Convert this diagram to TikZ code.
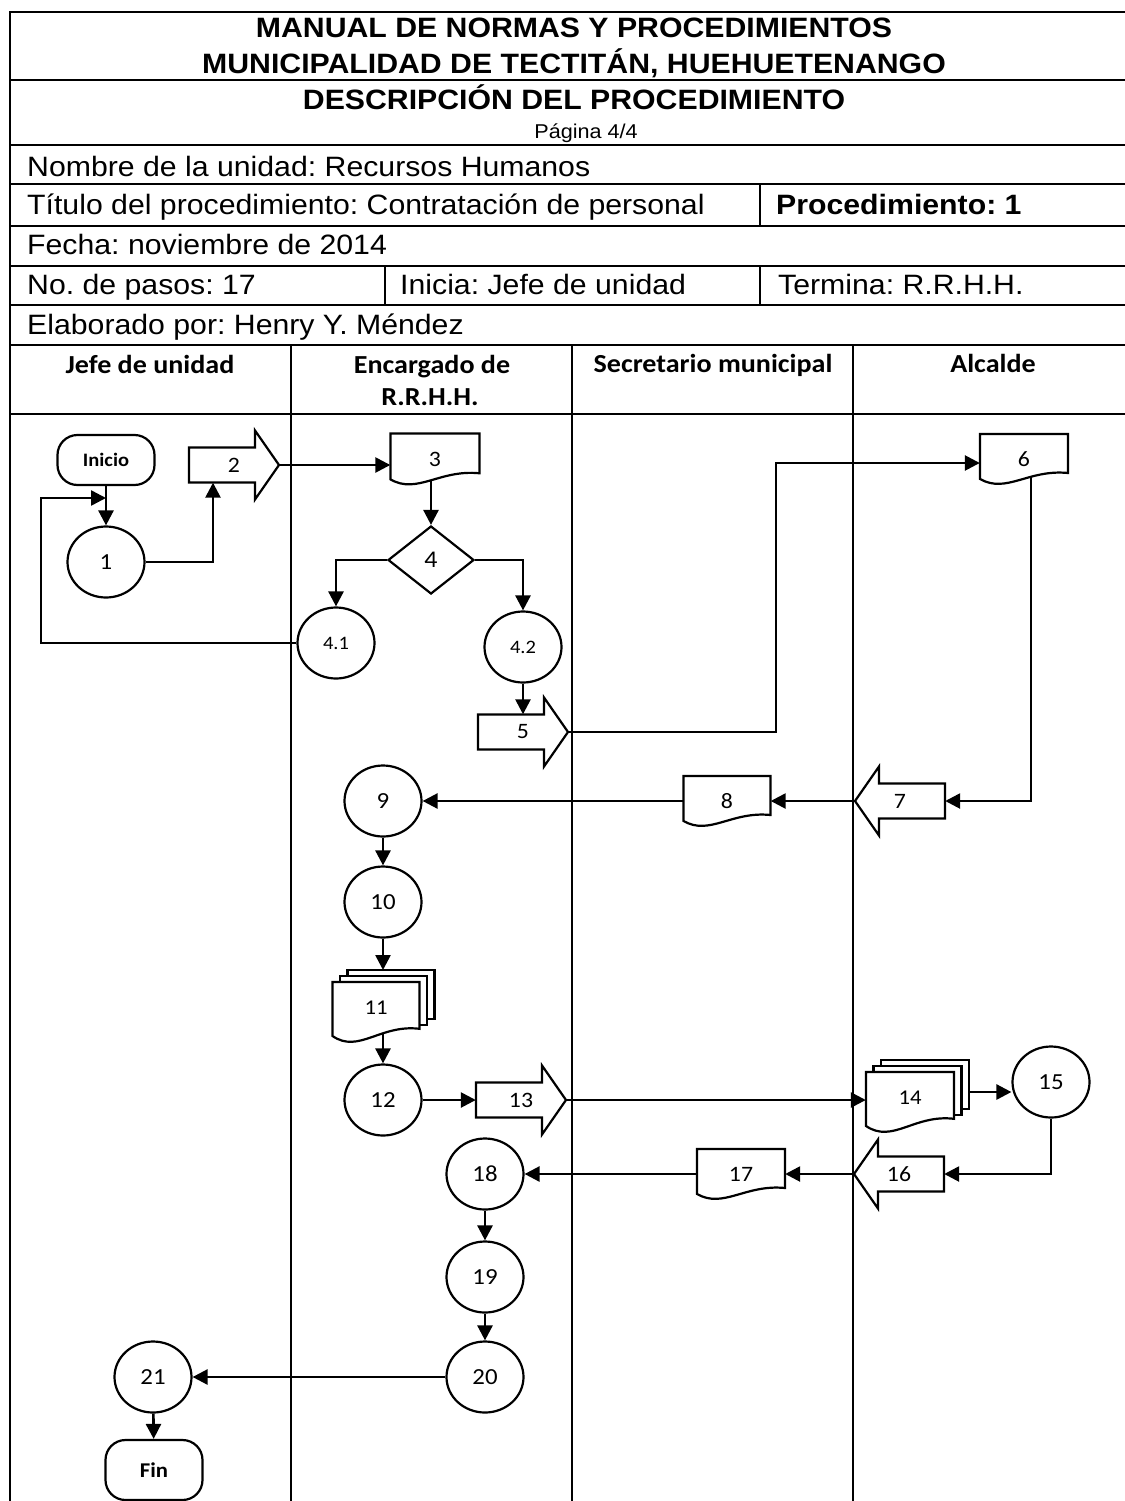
\documentclass[tikz,border=0pt]{standalone}
\usepackage{fontspec}
\setmainfont{Liberation Sans}[FakeStretch=1.08]
\newfontfamily\calib{Carlito}[FakeStretch=1.08]
\usetikzlibrary{arrows.meta,shapes.geometric}
\pgfdeclarelayer{back}
\pgfdeclarelayer{bg}
\pgfsetlayers{back,bg,main}
\frenchspacing
\tikzset{
 frm/.style={line width=1.8pt},
 shp/.style={line width=2.2pt, fill=white, line join=miter},
 con/.style={line width=2.6pt, -{Triangle[length=15pt,width=15pt]}},
 lbl/.style={inner sep=0pt, font=\calib\fontsize{22}{26}\selectfont},
 circ/.style={ellipse, draw, line width=2.2pt, fill=white, minimum width=77pt, minimum height=71pt, inner sep=0pt, font=\calib\fontsize{23}{26}\selectfont},
 term/.style={draw, line width=2.2pt, fill=white, rounded corners=20pt, minimum width=97pt, minimum height=50pt, inner sep=0pt, font=\calib\bfseries\fontsize{19}{22}\selectfont},
 dia/.style={diamond, draw, line width=2.2pt, fill=white, minimum width=86pt, minimum height=68pt, inner sep=0pt, font=\calib\fontsize{24}{28}\selectfont},
 hd/.style={inner sep=0pt, font=\bfseries\fontsize{28}{32}\selectfont, anchor=base},
 rowtxt/.style={inner sep=0pt, font=\fontsize{28}{32}\selectfont, anchor=base west},
 lanetxt/.style={inner sep=0pt, font=\calib\bfseries\fontsize{26}{30}\selectfont, anchor=base},
}
% right-pointing block arrow: name, x, y, label
\newcommand\rblock[4]{%
 \begin{scope}[shift={(#2,#3)}]
  \draw[shp] (-45,-17.5) -- (21,-17.5) -- (21,-34.5) -- (45,0) -- (21,34.5) -- (21,17.5) -- (-45,17.5) -- cycle;
  \node[lbl, minimum width=90pt, minimum height=35pt] (#1) at (0,0) {#4};
 \end{scope}}
% left-pointing block arrow
\newcommand\lblock[4]{%
 \begin{scope}[shift={(#2,#3)}]
  \draw[shp] (45,-17.5) -- (-21,-17.5) -- (-21,-34.5) -- (-45,0) -- (-21,34.5) -- (-21,17.5) -- (45,17.5) -- cycle;
  \node[lbl, minimum width=90pt, minimum height=35pt] (#1) at (0,0) {#4};
 \end{scope}}
% document: name, x, y, w, h, label
\newcommand\docshape[6]{%
 \begin{scope}[shift={(#2,#3)}]
  \draw[shp] ({-#4/2},{-#5/2}) -- ({#4/2},{-#5/2}) -- ({#4/2},{0.28*#5}) .. controls ({0.05*#4},{0.2*#5}) and ({-0.2*#4},{0.7*#5}) .. ({-#4/2},{0.4*#5}) -- cycle;
  \node[lbl, minimum width=#4pt, minimum height=#5pt] (#1) at (0,0) {#6};
 \end{scope}}
% multi document
\newcommand\multidoc[6]{%
 \begin{scope}[shift={(#2,#3)}]
  \draw[shp] ({15-#4/2},{-12-#5/2}) rectangle ({15+#4/2},{-12+0.32*#5});
  \draw[shp] ({7.5-#4/2},{-6-#5/2}) rectangle ({7.5+#4/2},{-6+0.32*#5});
  \coordinate (#1top) at (15,{-12-#5/2});
  \draw[shp] ({-#4/2},{-#5/2}) -- ({#4/2},{-#5/2}) -- ({#4/2},{0.28*#5}) .. controls ({0.05*#4},{0.2*#5}) and ({-0.2*#4},{0.7*#5}) .. ({-#4/2},{0.4*#5}) -- cycle;
  \node[lbl, font=\calib\fontsize{21}{24}\selectfont, minimum width=#4pt, minimum height=#5pt] (#1) at (0,0) {\raisebox{9pt}{#6}};
 \end{scope}}
\begin{document}
\begin{tikzpicture}[x=1pt,y=-1pt]
\useasboundingbox (0,0) rectangle (1124,1501);
\begin{pgfonlayer}{back}
\fill[white] (0,0) rectangle (1124,1501);
\end{pgfonlayer}
% ---------- frame ----------
\draw[frm] (1134,12) -- (10,12) -- (10,1510);
\foreach \yy in {80,145,184,226,266,305,345,414} \draw[frm] (10,\yy) -- (1134,\yy);
\draw[frm] (760,184) -- (760,226);
\draw[frm] (385,266) -- (385,305);
\draw[frm] (760,266) -- (760,305);
\foreach \xx in {291,572,853} \draw[frm] (\xx,345) -- (\xx,1510);
% ---------- header texts ----------
\node[hd] (t1) at (574,38) {MANUAL DE NORMAS Y PROCEDIMIENTOS};
\node[hd] (t2) at (574,74) {MUNICIPALIDAD DE TECTITÁN, HUEHUETENANGO};
\node[hd] (t3) at (574,110) {DESCRIPCIÓN DEL PROCEDIMIENTO};
\node[inner sep=0pt, anchor=base, font=\fontsize{20}{24}\selectfont] (t4) at (586,139) {Página 4/4};
\node[rowtxt] (r1) at (27,176) {Nombre de la unidad: Recursos Humanos};
\node[rowtxt] (r2) at (27,214) {Título del procedimiento: Contratación de personal};
\node[rowtxt, font=\bfseries\fontsize{28}{32}\selectfont] (r3) at (776,214) {Procedimiento: 1};
\node[rowtxt] (r4) at (27,254) {Fecha: noviembre de 2014};
\node[rowtxt] (r5) at (27,294) {No. de pasos: 17};
\node[rowtxt] (r6) at (400,294) {Inicia: Jefe de unidad};
\node[rowtxt] (r7) at (778,294) {Termina: R.R.H.H.};
\node[rowtxt] (r8) at (27,334) {Elaborado por: Henry Y. Méndez};
\node[lanetxt] (h1) at (150,373) {Jefe de unidad};
\node[lanetxt] (h2) at (432,373) {Encargado de};
\node[lanetxt] (h2b) at (430,405) {R.R.H.H.};
\node[lanetxt] (h3) at (713,372) {Secretario municipal};
\node[lanetxt] (h4) at (993,372) {Alcalde};
% ---------- shapes ----------
\node[term] (ini) at (106,460) {Inicio};
\node[circ] (c1) at (106,562) {1};
\rblock{a2}{234}{465}{2}
\docshape{d3}{435}{459}{89}{51}{3}
\node[dia] (d4) at (431,560) {4};
\node[circ, font=\calib\fontsize{19}{22}\selectfont] (c41) at (336,643) {4.1};
\node[circ, font=\calib\fontsize{19}{22}\selectfont] (c42) at (523,647) {4.2};
\rblock{a5}{523}{732}{5}
\docshape{d6}{1024}{459}{88}{50}{6}
\lblock{a7}{900}{801}{7}
\docshape{d8}{727}{801}{87}{50}{8}
\node[circ] (c9) at (383,801) {9};
\node[circ] (c10) at (383,902) {10};
\multidoc{d11}{376}{1012}{87}{60}{11}
\node[circ] (c12) at (383,1100) {12};
\rblock{a13}{521}{1100}{13}
\multidoc{d14}{910}{1102}{88}{60}{14}
\node[circ] (c15) at (1051,1082) {15};
\lblock{a16}{899}{1174}{16}
\docshape{d17}{741}{1174}{88}{50}{17}
\node[circ] (c18) at (485,1174) {18};
\node[circ] (c19) at (485,1277) {19};
\node[circ] (c20) at (485,1377) {20};
\node[circ] (c21) at (153,1377) {21};
\node[term, minimum height=60pt, font=\calib\bfseries\fontsize{21}{24}\selectfont] (fin) at (154,1470) {Fin};
% ---------- connectors ----------
\coordinate (j1) at (106,498);
\coordinate (lp) at (41,498);
\coordinate (k1) at (776,463);
\begin{pgfonlayer}{bg}
\draw[con] (ini) -- (c1);
\draw[con] (c41.west) -| (lp) -- (j1);
\draw[con] (c1.east) -| ([xshift=-21pt]a2.south);
\draw[con] (a2.east) -- (a2.east -| d3.west);
\draw[con] (d3.center -| d4.north) -- (d4.north);
\draw[con] (d4.west) -| (c41.north);
\draw[con] (d4.east) -| (c42.north);
\draw[con] (c42.south) -- (a5.north);
\draw[con] (a5.east) -| (k1) -- (k1 -| d6.west);
\draw[con] ([xshift=7pt]d6.center) |- (a7.east);
\draw[con] (a7.west) -- (a7.west -| d8.east);
\draw[con] (d8.west) -- (d8.west -| c9.east);
\draw[con] (c9) -- (c10);
\draw[con] (c10.south) -- (c10.south |- d11top);
\draw[con] (c12.north |- d11.center) -- (c12.north);
\draw[con] (c12.east) -- (a13.west);
\draw[con] (a13.east) -- (a13.east -| d14.west);
\draw[con] ([yshift=10pt]d14.center) -- ([yshift=10pt]d14.center -| c15.west);
\draw[con] (c15.south) |- (a16.east);
\draw[con] (a16.west) -- (a16.west -| d17.east);
\draw[con] (d17.west) -- (d17.west -| c18.east);
\draw[con] (c18) -- (c19);
\draw[con] (c19) -- (c20);
\draw[con] (c20.west) -- (c20.west -| c21.east);
\draw[con] (c21) -- (fin);
\end{pgfonlayer}
\end{tikzpicture}
\end{document}
